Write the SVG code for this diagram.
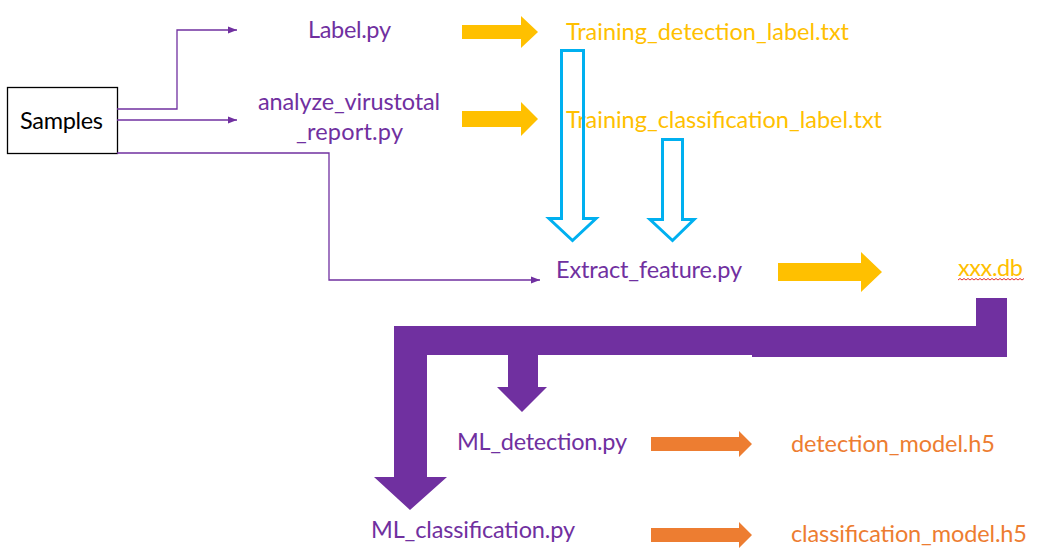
<svg xmlns="http://www.w3.org/2000/svg" width="1037" height="558" viewBox="0 0 1037 558">
  <defs>
    <style>
      .t { font-family: Lato, "Liberation Sans", Arial, sans-serif; font-size: 23.5px; }
      .purple { fill: #7030A0; }
      .gold { fill: #FFC000; }
      .orange { fill: #ED7D31; }
      .black { fill: #000000; }
      .conn { fill: none; stroke: #7030A0; stroke-width: 1.3; }
      .hollow { fill: none; stroke: #00B0F0; stroke-width: 3; stroke-linejoin: miter; }
      .bigp { fill: #7030A0; }
    </style>
    <marker id="ah" markerUnits="userSpaceOnUse" markerWidth="10" markerHeight="8" refX="9" refY="4" orient="auto">
      <path d="M0,0.5 L9,4 L0,7.5 z" fill="#7030A0"/>
    </marker>
  </defs>
  <rect width="1037" height="558" fill="#ffffff"/>

  <g id="samples">
    <rect x="7.5" y="87.5" width="110" height="66" fill="#ffffff" stroke="#000000" stroke-width="1.3"/>
    <text class="t black" x="20" y="129" textLength="83">Samples</text>
  </g>

  <g id="label-py">
    <text class="t purple" x="308" y="38" textLength="83">Label.py</text>
  </g>
  <g id="analyze-virustotal">
    <text class="t purple" x="258" y="110" textLength="182">analyze_virustotal</text>
    <text class="t purple" x="296" y="140" textLength="107">_report.py</text>
  </g>
  <g id="training-detection">
    <text class="t gold" x="566" y="40" textLength="283">Training_detection_label.txt</text>
  </g>
  <g id="training-classification">
    <text class="t gold" x="566" y="128" textLength="316">Training_classification_label.txt</text>
  </g>
  <g id="extract-feature">
    <text class="t purple" x="556" y="278" textLength="186">Extract_feature.py</text>
  </g>
  <g id="xxx-db">
    <text class="t gold" x="958" y="276" textLength="65">xxx.db</text>
    <path d="M958,280 l2,-1.5 l2,1.5 l2,-1.5 l2,1.5 l2,-1.5 l2,1.5 l2,-1.5 l2,1.5 l2,-1.5 l2,1.5 l2,-1.5 l2,1.5 l2,-1.5 l2,1.5 l2,-1.5 l2,1.5 l2,-1.5 l2,1.5 l2,-1.5 l2,1.5 l2,-1.5 l2,1.5 l2,-1.5 l2,1.5 l2,-1.5 l2,1.5 l2,-1.5 l2,1.5 l2,-1.5 l2,1.5 l2,-1.5 l2,1.5 l2,-1.5" fill="none" stroke="#E03030" stroke-width="1"/>
  </g>
  <g id="ml-detection">
    <text class="t purple" x="457" y="450" textLength="170">ML_detection.py</text>
  </g>
  <g id="ml-classification">
    <text class="t purple" x="371" y="538" textLength="204">ML_classification.py</text>
  </g>
  <g id="detection-model">
    <text class="t orange" x="791" y="452" textLength="204">detection_model.h5</text>
  </g>
  <g id="classification-model">
    <text class="t orange" x="791" y="542" textLength="236">classification_model.h5</text>
  </g>

  <g id="connectors">
    <path class="conn" d="M117,109 H177 V30 H237" marker-end="url(#ah)"/>
    <path class="conn" d="M117,120 H237" marker-end="url(#ah)"/>
    <path class="conn" d="M117,153 H329 V280 H540" marker-end="url(#ah)"/>

    <path class="gold" d="M462,25 H521 V16 L538,32 L521,48 V39 H462 z"/>
    <path class="gold" d="M462,111 H521 V102 L538,119 L521,136 V127 H462 z"/>
    <path class="gold" d="M778,263 H861 V252 L882,272 L861,292 V281 H778 z"/>

    <path class="hollow" d="M561.5,50.5 H583.5 V218.5 H596 L572.5,240.5 L549,218.5 H561.5 z"/>
    <path class="hollow" d="M662.5,139.5 H682.5 V219.5 H694 L672.5,240.5 L650,219.5 H662.5 z"/>

    <path class="bigp" d="M976,298 H1007 V357 H752 V355 H427 V477 H447 L410,510 L374,477 H394 V326 H976 z"/>
    <path class="bigp" d="M508,354 H538 V387 H547 L522,412 L497,387 H508 z"/>

    <path class="orange" d="M651,437 H739 V431 L752,444 L739,457 V451 H651 z"/>
    <path class="orange" d="M651,528 H739 V522 L752,535 L739,548 V542 H651 z"/>
  </g>
</svg>
